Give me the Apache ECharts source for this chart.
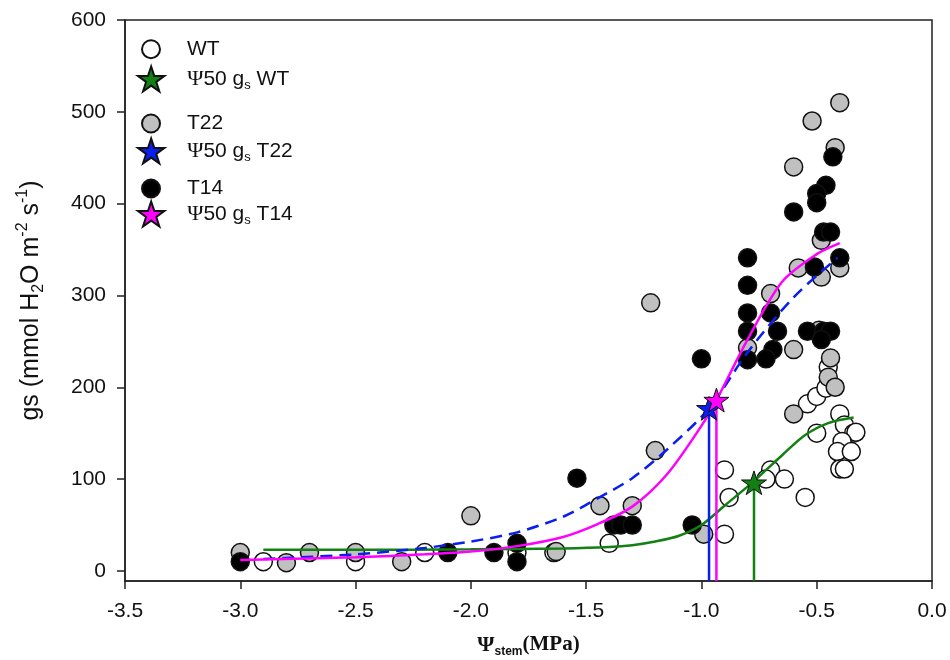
<!DOCTYPE html>
<html><head><meta charset="utf-8">
<script src="https://cdn.jsdelivr.net/npm/echarts@6/dist/echarts.min.js"></script>
<style>html,body{margin:0;padding:0;background:#fff}#c{width:950px;height:660px}</style>
</head><body><div id="c"></div>
<script>
const xTicks = [-3.5, -3.0, -2.5, -2.0, -1.5, -1.0, -0.5, 0.0];
const yTicks = [0, 100, 200, 300, 400, 500, 600];

const wtPoints = [[-2.9,10],[-2.5,10],[-2.2,20],[-1.8,20],[-1.64,20],[-1.4,30],[-0.9,110],[-0.88,80],[-0.9,40],
  [-0.7,110],[-0.72,100],[-0.64,100],[-0.55,80],[-0.54,182],[-0.5,190],[-0.46,199],[-0.45,222],[-0.5,150],
  [-0.4,171],[-0.38,159],[-0.34,150],[-0.33,151],[-0.39,141],[-0.41,130],[-0.35,130],[-0.4,111],[-0.38,111]];
const t22Points = [[-3.0,20],[-2.8,9],[-2.7,20],[-2.5,20],[-2.3,10],[-2.0,60],[-1.63,21],[-1.44,71],[-1.3,71],
  [-1.2,131],[-1.22,292],[-0.99,40],[-0.7,302],[-0.8,243],[-0.6,241],[-0.58,330],[-0.48,320],[-0.4,330],
  [-0.44,232],[-0.45,211],[-0.42,200],[-0.6,171],[-0.4,510],[-0.52,490],[-0.42,461],[-0.6,440],[-0.48,360],[-0.49,262]];
const t14Points = [[-3.0,10],[-2.1,20],[-1.9,20],[-1.8,30],[-1.8,10],[-1.54,101],[-1.38,50],[-1.35,50],[-1.3,50],
  [-1.04,50],[-1.0,231],[-0.8,341],[-0.8,311],[-0.8,281],[-0.8,261],[-0.8,230],[-0.7,281],[-0.67,261],[-0.69,241],
  [-0.72,231],[-0.54,261],[-0.47,261],[-0.44,261],[-0.48,252],[-0.51,331],[-0.4,341],[-0.43,451],[-0.46,420],
  [-0.5,411],[-0.5,401],[-0.6,391],[-0.47,369],[-0.44,369]];

const wtFit = [[-2.9,23],[-2.5,23],[-2.0,23.5],[-1.6,24.5],[-1.4,26],[-1.3,28],[-1.2,32],[-1.1,38],[-1.0,50],
  [-0.9,71],[-0.776,97],[-0.65,126],[-0.55,148],[-0.45,161],[-0.34,167]];
const t22Fit = [[-2.9,13],[-2.5,18],[-2.2,25],[-2.0,32],[-1.8,42],[-1.6,59],[-1.45,79],[-1.3,101],
  [-1.15,132],[-0.967,177],[-0.8,238],[-0.6,298],[-0.41,341]];
const t14Fit = [[-3.0,12],[-2.5,15],[-2.2,18],[-2.0,21],[-1.8,27],[-1.6,37],[-1.45,51],[-1.3,70],
  [-1.15,105],[-1.0,158],[-0.935,186],[-0.8,252],[-0.65,315],[-0.5,345],[-0.4,357]];

const psi50WT = [-0.772, 96];
const psi50T22 = [-0.967, 177];
const psi50T14 = [-0.935, 186];
const yBottom = -11;

const names = ['WT', 'Ψ50 gs WT', 'T22', 'Ψ50 gs T22', 'T14', 'Ψ50 gs T14'];
const STAR = 'path://M50 2 L61.8 37.6 L99 37.6 L69 59.6 L80.4 95 L50 73 L19.6 95 L31 59.6 L1 37.6 L38.2 37.6 Z';

const chart = echarts.init(document.getElementById('c'), null, {renderer: 'canvas'});

function legendFor(name, centerY, h, left) {
  return {
    data: [name], orient: 'vertical', left: left, top: centerY - h / 2, padding: 0,
    itemWidth: 62, itemHeight: h, selectedMode: false,
    formatter: function (n) {
      if (n.indexOf('Ψ50') === 0) return '{p|Ψ}{t|50 g}{s|s}{t|' + n.slice(6) + '}';
      return '{t|' + n + '}';
    },
    textStyle: {
      rich: {
        t: {fontSize: 21, fontFamily: 'Liberation Sans', color: '#111', lineHeight: 26},
        p: {fontSize: 22, fontFamily: 'Liberation Serif', color: '#111', lineHeight: 26},
        s: {fontSize: 13, fontFamily: 'Liberation Sans', color: '#111', lineHeight: 12, verticalAlign: 'bottom'}
      }
    }
  };
}

function scatter(name, data, fill) {
  return {type: 'scatter', name: name, data: data, symbol: 'circle', symbolSize: 18, z: 2,
    itemStyle: {color: fill, borderColor: '#111', borderWidth: 1.5, opacity: 1}};
}
function fit(data, color, type) {
  return {type: 'line', data: data, showSymbol: false, smooth: 0.3, z: 3, silent: true,
    lineStyle: {color: color, width: 2.5, type: type}};
}
function drop(pt, color) {
  return {type: 'line', data: [[pt[0], pt[1]], [pt[0], yBottom]], showSymbol: false, z: 4, silent: true,
    lineStyle: {color: color, width: 2.5}};
}
function star(name, pt, color) {
  return {type: 'scatter', name: name, data: [pt], symbol: STAR, symbolSize: 25, symbolKeepAspect: true, z: 5,
    itemStyle: {color: color, borderColor: '#111', borderWidth: 1, opacity: 1}};
}

chart.setOption({
  animation: false,
  backgroundColor: '#fff',
  grid: {left: 125, right: 18, top: 20, bottom: 79, show: true, borderColor: '#222', borderWidth: 1.5,
    containLabel: false, outerBoundsMode: 'none'},
  legend: [
    legendFor(names[0], 47.7, 18, 141), legendFor(names[1], 78, 25, 137),
    legendFor(names[2], 122, 18, 141), legendFor(names[3], 150, 25, 137),
    legendFor(names[4], 187, 18, 141), legendFor(names[5], 213, 25, 137)
  ],
  xAxis: {
    type: 'value', min: -3.5, max: 0,
    axisLine: {show: true, onZero: false, lineStyle: {color: '#222', width: 1.5}},
    axisTick: {show: true, length: 8, customValues: xTicks, lineStyle: {color: '#222', width: 1.5}},
    axisLabel: {customValues: xTicks, margin: 20, fontSize: 21, fontFamily: 'Liberation Sans', color: '#111',
      formatter: v => v.toFixed(1)},
    splitLine: {show: false},
    name: '{p|Ψ}{sub|stem}{m|(MPa)}', nameLocation: 'middle', nameGap: 51,
    nameTextStyle: {
      rich: {
        p: {fontSize: 22, fontFamily: 'Liberation Serif', fontWeight: 'bold', color: '#111', lineHeight: 26},
        sub: {fontSize: 12, fontFamily: 'Liberation Sans', fontWeight: 'bold', color: '#111', lineHeight: 12, verticalAlign: 'bottom'},
        m: {fontSize: 21, fontFamily: 'Liberation Serif', fontWeight: 'bold', color: '#111', lineHeight: 26}
      }
    }
  },
  yAxis: {
    type: 'value', min: yBottom, max: 600,
    axisLine: {show: true, onZero: false, lineStyle: {color: '#222', width: 1.5}},
    axisTick: {show: true, length: 8, customValues: yTicks, lineStyle: {color: '#222', width: 1.5}},
    axisLabel: {customValues: yTicks, margin: 19, fontSize: 21, fontFamily: 'Liberation Sans', color: '#111'},
    splitLine: {show: false},
    name: '{n|gs (mmol H}{sub|2}{n|O m}{sup|-2}{n| s}{sup|-1}{n|)}', nameLocation: 'middle', nameGap: 78,
    nameTextStyle: {
      rich: {
        n: {fontSize: 25, fontFamily: 'Liberation Sans', color: '#111', lineHeight: 32},
        sub: {fontSize: 16, fontFamily: 'Liberation Sans', color: '#111', lineHeight: 16, verticalAlign: 'bottom'},
        sup: {fontSize: 16, fontFamily: 'Liberation Sans', color: '#111', lineHeight: 16, verticalAlign: 'top'}
      }
    }
  },
  series: [
    scatter(names[0], wtPoints, '#ffffff'),
    scatter(names[2], t22Points, '#c0c0c0'),
    scatter(names[4], t14Points, '#000000'),
    fit(wtFit, '#128012', 'solid'),
    fit(t22Fit, '#0a1ef0', [12, 7]),
    fit(t14Fit, '#ff00ff', 'solid'),
    drop(psi50WT, '#128012'),
    drop(psi50T22, '#0a1ef0'),
    drop(psi50T14, '#ff00ff'),
    star(names[1], psi50WT, '#128012'),
    star(names[3], psi50T22, '#0a1ef0'),
    star(names[5], psi50T14, '#ff00ff')
  ]
});
</script></body></html>
